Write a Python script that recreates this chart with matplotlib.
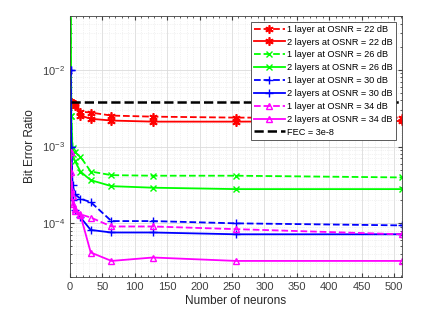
import matplotlib
matplotlib.use('Agg')
import matplotlib.pyplot as plt
from matplotlib.ticker import LogLocator, NullFormatter, MultipleLocator

plt.rcParams['font.family'] = ['Liberation Sans', 'DejaVu Sans']

# Data
neurons = [1, 2, 4, 8, 16, 32, 64, 128, 256, 512]

ber_22_1 = [3.83e-3, 3.83e-3, 3.73e-3, 3.62e-3, 2.85e-3, 2.77e-3, 2.53e-3, 2.45e-3, 2.38e-3, 2.38e-3]
ber_22_2 = [3.83e-3, 3.83e-3, 3.62e-3, 3.4e-3, 2.53e-3, 2.3e-3, 2.18e-3, 2.11e-3, 2.11e-3, 2.15e-3]
ber_26_1 = [2e-1, 2.5e-3, 9.7e-4, 8.4e-4, 7.4e-4, 4.73e-4, 4.24e-4, 4.17e-4, 4.17e-4, 3.96e-4]
ber_26_2 = [2e-1, 2.5e-3, 7.9e-4, 6.4e-4, 4.73e-4, 3.65e-4, 3.05e-4, 2.91e-4, 2.79e-4, 2.79e-4]
ber_30_1 = [1e-2, 1e-3, 3.12e-4, 2.38e-4, 2.09e-4, 1.89e-4, 1.07e-4, 1.07e-4, 1.0e-4, 9.4e-5]
ber_30_2 = [1e-2, 1e-3, 2.0e-4, 1.5e-4, 1.2e-4, 8.2e-5, 7.6e-5, 7.6e-5, 7.2e-5, 7.2e-5]
ber_34_1 = [8.4e-4, 4.7e-4, 2.25e-4, 1.52e-4, 1.31e-4, 1.19e-4, 9.1e-5, 9.1e-5, 8.4e-5, 7.2e-5]
ber_34_2 = [8.4e-4, 2.8e-4, 1.77e-4, 1.43e-4, 1.29e-4, 4.17e-5, 3.24e-5, 3.59e-5, 3.24e-5, 3.24e-5]
fec_limit = 3.8e-3

labels = ['1 layer at OSNR = 22 dB', '2 layers at OSNR = 22 dB',
          '1 layer at OSNR = 26 dB', '2 layers at OSNR = 26 dB',
          '1 layer at OSNR = 30 dB', '2 layers at OSNR = 30 dB',
          '1 layer at OSNR = 34 dB', '2 layers at OSNR = 34 dB']

fig = plt.figure(figsize=(4.43, 3.15), dpi=100)
ax = fig.add_axes([0.158, 0.1206, 0.749, 0.8284])

star = (6, 2, 0)  # MATLAB-like asterisk
ax.semilogy(neurons, ber_22_1, '--', color='r', marker=star, ms=6, mew=1.2, lw=1.3, label=labels[0])
ax.semilogy(neurons, ber_22_2, '-', color='r', marker=star, ms=6, mew=1.2, lw=1.3, label=labels[1])
ax.semilogy(neurons, ber_26_1, '--', color='#00ff00', marker='x', ms=4, lw=1.3, label=labels[2])
ax.semilogy(neurons, ber_26_2, '-', color='#00ff00', marker='x', ms=4, lw=1.3, label=labels[3])
ax.semilogy(neurons, ber_30_1, '--', color='b', marker='+', ms=6, lw=1.3, label=labels[4])
ax.semilogy(neurons, ber_30_2, '-', color='b', marker='+', ms=6, lw=1.3, label=labels[5])
ax.semilogy(neurons, ber_34_1, '--', color='#ff00ff', marker='^', mfc='none', ms=5, lw=1.3, label=labels[6])
ax.semilogy(neurons, ber_34_2, '-', color='#ff00ff', marker='^', mfc='none', ms=5, lw=1.3, label=labels[7])
ax.semilogy([neurons[0], neurons[-1]], [fec_limit, fec_limit], '--', color='k', lw=1.8, label='FEC = 3e-8')

ax.set_xlim(0, 512)
ax.set_ylim(2e-5, 5e-2)
ax.xaxis.set_major_locator(MultipleLocator(50))
ax.xaxis.set_minor_locator(MultipleLocator(10))
ax.yaxis.set_major_locator(LogLocator(base=10, numticks=10))
ax.yaxis.set_minor_locator(LogLocator(base=10, subs=range(2, 10), numticks=20))
ax.yaxis.set_minor_formatter(NullFormatter())

ax.grid(True, which='major', color='#dcdcdc', lw=0.6)
ax.grid(True, which='minor', color='#e6e6e6', lw=0.5, ls=':')
ax.tick_params(which='both', direction='in', top=True, right=True, colors='#404040', labelsize=8)
ax.tick_params(which='major', length=3)
ax.tick_params(which='minor', length=1.5)
for s in ax.spines.values():
    s.set_color('#404040')
    s.set_linewidth(0.6)

ax.set_xlabel('Number of neurons', fontsize=8.5, color='#262626', labelpad=2)
ax.set_ylabel('Bit Error Ratio', fontsize=8.5, color='#262626', labelpad=4)

leg = ax.legend(loc='upper right', fontsize=6.6, frameon=True, fancybox=False, framealpha=1,
                edgecolor='#404040', handlelength=3.3, handletextpad=0.3,
                labelspacing=0.42, borderpad=0.35, borderaxespad=0.6)
leg.get_frame().set_linewidth(0.6)

fig.savefig('out.png', dpi=100)
